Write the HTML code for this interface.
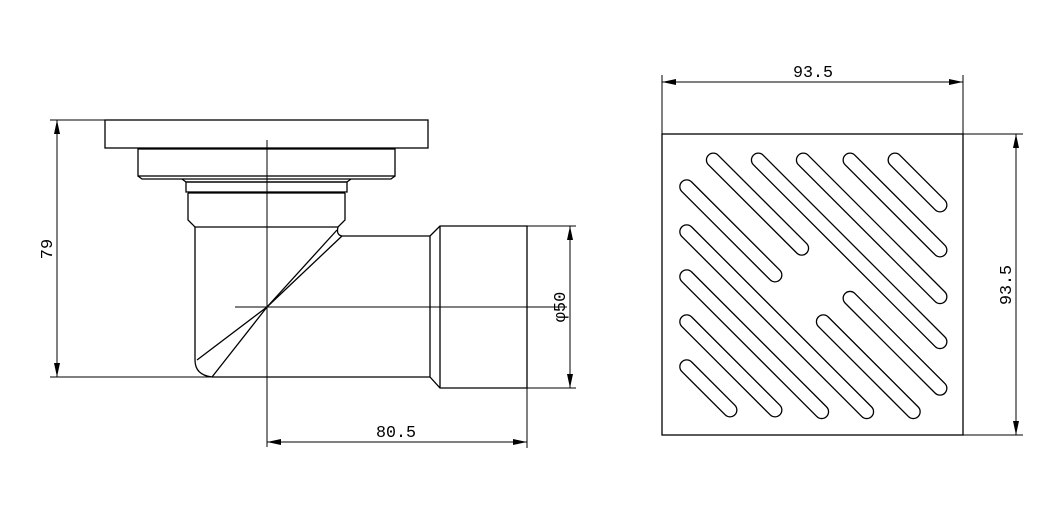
<!DOCTYPE html>
<html><head><style>html,body{margin:0;padding:0;background:#fff;}svg{display:block}</style></head>
<body>
<svg width="1051" height="516" viewBox="0 0 1051 516" xmlns="http://www.w3.org/2000/svg">
<defs>
<marker id="ar" viewBox="0 0 14 6" refX="14" refY="3" markerWidth="14" markerHeight="6" markerUnits="userSpaceOnUse" orient="auto-start-reverse"><path d="M0,0 L14,3 L0,6 z" fill="#000"/></marker>
</defs>
<g fill="none" stroke="#000" stroke-width="1.3">
<rect x="105" y="120" width="323" height="28"/>
<rect x="138" y="149" width="257" height="27"/>
<path d="M138,176 L142,179 L391,179 L395,176"/>
<path d="M182,179 L186,182 L347,182 L351,179"/>
<rect x="186" y="182" width="161" height="10"/>
<path d="M188,193 L188,220 L195,227 L338,227 L345,220 L345,193"/>
<line x1="188" y1="193" x2="345" y2="193"/>
<path d="M195,227 L195,360 Q195,375 212,377 L430,377"/>
<path d="M338,227 Q336,235 342,236 L430,236"/>
<path d="M337,230 L267,307 L212,377"/>
<path d="M342,236 L267,307 L197,360"/>
<path d="M430,236 L430,377 M430,236 L440,226 L527,226 L527,388 L440,388 L430,377 M440,226 L440,388"/>
<line x1="267" y1="140" x2="267" y2="447" stroke-width="1"/>
<line x1="235" y1="307" x2="567" y2="307" stroke-width="1"/>
<line x1="50" y1="120" x2="105" y2="120" stroke-width="1"/>
<line x1="50" y1="377" x2="212" y2="377" stroke-width="1"/>
<line x1="57" y1="120" x2="57" y2="377" stroke-width="1" marker-start="url(#ar)" marker-end="url(#ar)"/>
<line x1="527" y1="226" x2="576" y2="226" stroke-width="1"/>
<line x1="527" y1="388" x2="576" y2="388" stroke-width="1"/>
<line x1="570" y1="226" x2="570" y2="388" stroke-width="1" marker-start="url(#ar)" marker-end="url(#ar)"/>
<line x1="527" y1="388" x2="527" y2="448" stroke-width="1"/>
<line x1="267" y1="442" x2="527" y2="442" stroke-width="1" marker-start="url(#ar)" marker-end="url(#ar)"/>
<rect x="662" y="134" width="301" height="301"/>
<line x1="662" y1="75" x2="662" y2="134" stroke-width="1"/>
<line x1="963" y1="75" x2="963" y2="134" stroke-width="1"/>
<line x1="662" y1="82" x2="963" y2="82" stroke-width="1" marker-start="url(#ar)" marker-end="url(#ar)"/>
<line x1="963" y1="134" x2="1023" y2="134" stroke-width="1"/>
<line x1="963" y1="435" x2="1023" y2="435" stroke-width="1"/>
<line x1="1016" y1="134" x2="1016" y2="435" stroke-width="1" marker-start="url(#ar)" marker-end="url(#ar)"/>
</g>
<g stroke-linecap="round" fill="none">
<g stroke="#000" stroke-width="15">
<line x1="713.3" y1="160" x2="801.7" y2="248.3"/>
<line x1="758.3" y1="160" x2="940" y2="341.7"/>
<line x1="803.3" y1="160" x2="940" y2="296.7"/>
<line x1="850" y1="160" x2="940" y2="250"/>
<line x1="895" y1="160" x2="940" y2="205"/>
<line x1="686.7" y1="186.7" x2="775" y2="275"/>
<line x1="686.7" y1="231.7" x2="866.7" y2="411.7"/>
<line x1="686.7" y1="276.7" x2="821.7" y2="411.7"/>
<line x1="686.7" y1="321.7" x2="775" y2="410"/>
<line x1="686.7" y1="366.7" x2="730" y2="410"/>
<line x1="850" y1="298.3" x2="940" y2="388.3"/>
<line x1="823.3" y1="321.7" x2="913.3" y2="411.7"/>
</g>
<g stroke="#fff" stroke-width="12.4">
<line x1="713.3" y1="160" x2="801.7" y2="248.3"/>
<line x1="758.3" y1="160" x2="940" y2="341.7"/>
<line x1="803.3" y1="160" x2="940" y2="296.7"/>
<line x1="850" y1="160" x2="940" y2="250"/>
<line x1="895" y1="160" x2="940" y2="205"/>
<line x1="686.7" y1="186.7" x2="775" y2="275"/>
<line x1="686.7" y1="231.7" x2="866.7" y2="411.7"/>
<line x1="686.7" y1="276.7" x2="821.7" y2="411.7"/>
<line x1="686.7" y1="321.7" x2="775" y2="410"/>
<line x1="686.7" y1="366.7" x2="730" y2="410"/>
<line x1="850" y1="298.3" x2="940" y2="388.3"/>
<line x1="823.3" y1="321.7" x2="913.3" y2="411.7"/>
</g>
</g>
<g font-family="Liberation Mono, monospace" font-size="17" fill="#000">
<text x="396" y="437" text-anchor="middle" textLength="40" lengthAdjust="spacingAndGlyphs">80.5</text>
<text x="813" y="77" text-anchor="middle" textLength="40" lengthAdjust="spacingAndGlyphs">93.5</text>
<text transform="translate(52,249) rotate(-90)" text-anchor="middle">79</text>
<text transform="translate(565,307) rotate(-90)" text-anchor="middle">φ50</text>
<text transform="translate(1011,285) rotate(-90)" text-anchor="middle" textLength="40" lengthAdjust="spacingAndGlyphs">93.5</text>
</g>
</svg>
</body></html>
